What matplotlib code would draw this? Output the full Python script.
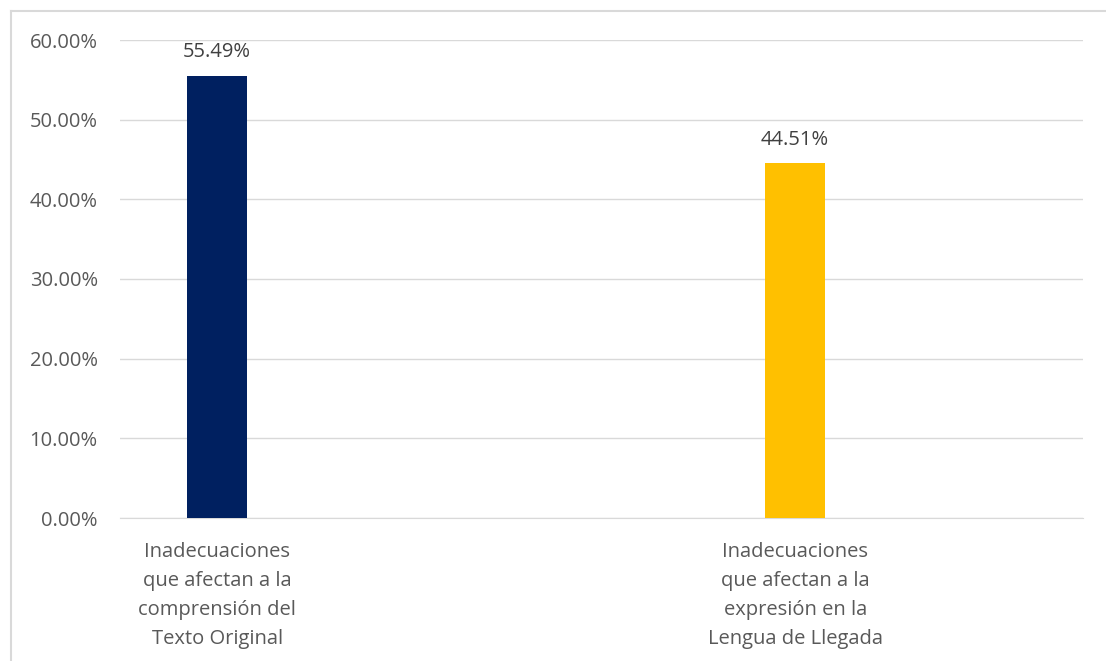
import matplotlib
matplotlib.use('Agg')
from matplotlib import pyplot as plt
from matplotlib.lines import Line2D

categories = ['Inadecuaciones\nque afectan a la\ncomprensión del\nTexto Original',
              'Inadecuaciones\nque afectan a la\nexpresión en la\nLengua de Llegada']
values = [55.49, 44.51]
bar_colors = ['#002060', '#FFC000']
yticks = [0, 10, 20, 30, 40, 50, 60]

plt.rcParams['font.family'] = ['Open Sans', 'DejaVu Sans']

W, H = 1106, 661
fig = plt.figure(figsize=(W / 100, H / 100), dpi=100)
ax = fig.add_axes([120 / W, 1 - 518 / H, (1083 - 120) / W, (518 - 40) / H])

x = list(range(len(values)))
ax.bar(x, values, width=0.105, color=bar_colors, zorder=3)
for xi, v in zip(x, values):
    ax.text(xi, v + 1.7, '{:.2f}%'.format(v), ha='center', va='bottom', fontsize=14.5, color='#404040')

ax.set_xlim(-0.168, 1.498)
ax.set_ylim(0, 60)
ax.set_yticks(yticks)
ax.set_yticklabels(['{:.2f}%'.format(t) for t in yticks], fontsize=14.5, color='#595959')
ax.set_xticks(x)
ax.set_xticklabels(categories, fontsize=14.5, color='#595959', linespacing=1.6)
ax.tick_params(axis='y', length=0, pad=16)
ax.tick_params(axis='x', length=0, pad=17)
ax.grid(axis='y', color='#d9d9d9', linewidth=1, zorder=0)
for s in ['top', 'right', 'left']:
    ax.spines[s].set_visible(False)
ax.spines['bottom'].set_color('#d9d9d9')

# chart frame: only left and top edges are visible
fig.add_artist(Line2D([10.5 / W, 10.5 / W], [0, 1 - 10.5 / H], transform=fig.transFigure,
                      color='#d9d9d9', linewidth=1.5))
fig.add_artist(Line2D([10.5 / W, 1], [1 - 10.5 / H, 1 - 10.5 / H], transform=fig.transFigure,
                      color='#d9d9d9', linewidth=1.5))

plt.savefig('out.png', dpi=100)
